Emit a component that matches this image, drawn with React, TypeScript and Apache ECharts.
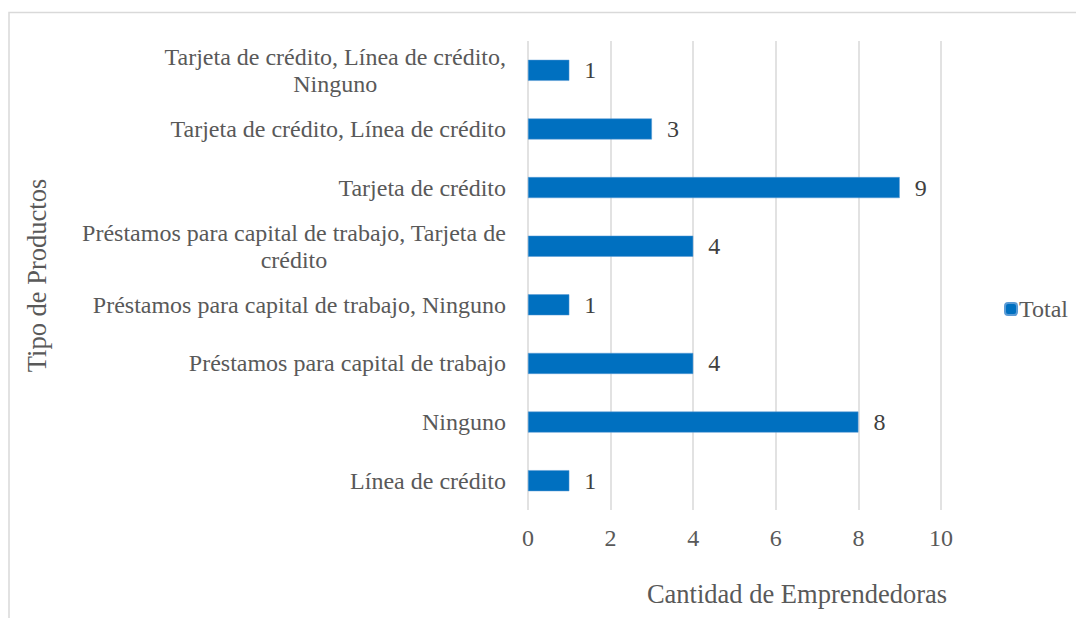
import React, { useEffect, useRef } from "react";
import * as echarts from "echarts";

const categories = [
  "Línea de crédito",
  "Ninguno",
  "Préstamos para capital de trabajo",
  "Préstamos para capital de trabajo, Ninguno",
  "Préstamos para capital de trabajo, Tarjeta de\ncrédito",
  "Tarjeta de crédito",
  "Tarjeta de crédito, Línea de crédito",
  "Tarjeta de crédito, Línea de crédito,\nNinguno",
];
const values = [1, 8, 4, 1, 4, 9, 3, 1];
const seriesName = "Total";
const xTitle = "Cantidad de Emprendedoras";
const yTitle = "Tipo de Productos";

const FONT = "Liberation Serif";
const TEXT = "#595959";
const FS = 24;
const TS = 26.5;

export default function App() {
  const ref = useRef<HTMLDivElement>(null);
  useEffect(() => {
    const chart = echarts.init(ref.current!, null, { renderer: "svg" });
    chart.setOption({
      animation: false,
      textStyle: { fontFamily: FONT },
      graphic: [
        {
          type: "rect",
          shape: { x: 9, y: 12.5, width: 1200, height: 800 },
          style: { fill: "none", stroke: "#d9d9d9", lineWidth: 1.5 },
          silent: true,
        },
      ],
      grid: { left: 528, right: 135, top: 41, bottom: 108 },
      legend: {
        orient: "vertical",
        right: 3,
        top: "middle",
        itemWidth: 12,
        itemHeight: 12,
        itemGap: 4,
        data: [seriesName],
        textStyle: { fontFamily: FONT, fontSize: FS, color: TEXT, padding: [0, 0, 0, -3] },
      },
      xAxis: {
        type: "value",
        min: 0,
        max: 10,
        interval: 2,
        name: xTitle,
        nameLocation: "middle",
        nameGap: 70,
        nameTextStyle: { fontFamily: FONT, fontSize: TS, color: TEXT, padding: [0, 0, 0, 125] },
        axisLine: { show: false },
        axisTick: { show: false },
        axisLabel: { fontFamily: FONT, fontSize: FS, color: TEXT, margin: 16 },
        splitLine: { lineStyle: { color: "#d9d9d9", width: 1.5 } },
      },
      yAxis: {
        type: "category",
        data: categories,
        name: yTitle,
        nameLocation: "middle",
        nameRotate: 90,
        nameGap: 478,
        nameTextStyle: { fontFamily: FONT, fontSize: TS, color: TEXT },
        axisLine: { show: false },
        axisTick: { show: false },
        axisLabel: {
          fontFamily: FONT,
          fontSize: FS,
          color: TEXT,
          margin: 22,
          lineHeight: 27,
          formatter: (v: string) =>
            v
              .split("\n")
              .map((l) => "{c|" + l + "}")
              .join("\n"),
          rich: { c: { align: "center", fontFamily: FONT, fontSize: FS, color: TEXT, lineHeight: 27 } },
        },
      },
      series: [
        {
          type: "bar",
          name: seriesName,
          data: values,
          barWidth: 21,
          itemStyle: { color: "#0070C0", borderColor: "#5b9bd5", borderWidth: 0.5 },
          label: {
            show: true,
            position: "right",
            distance: 15,
            fontFamily: FONT,
            fontSize: FS,
            color: "#404040",
          },
        },
      ],
    });
    return () => chart.dispose();
  }, []);
  return (
    <div
      ref={ref}
      style={{ position: "absolute", left: 0, top: 0, width: 1076, height: 618, background: "#fff" }}
    />
  );
}
